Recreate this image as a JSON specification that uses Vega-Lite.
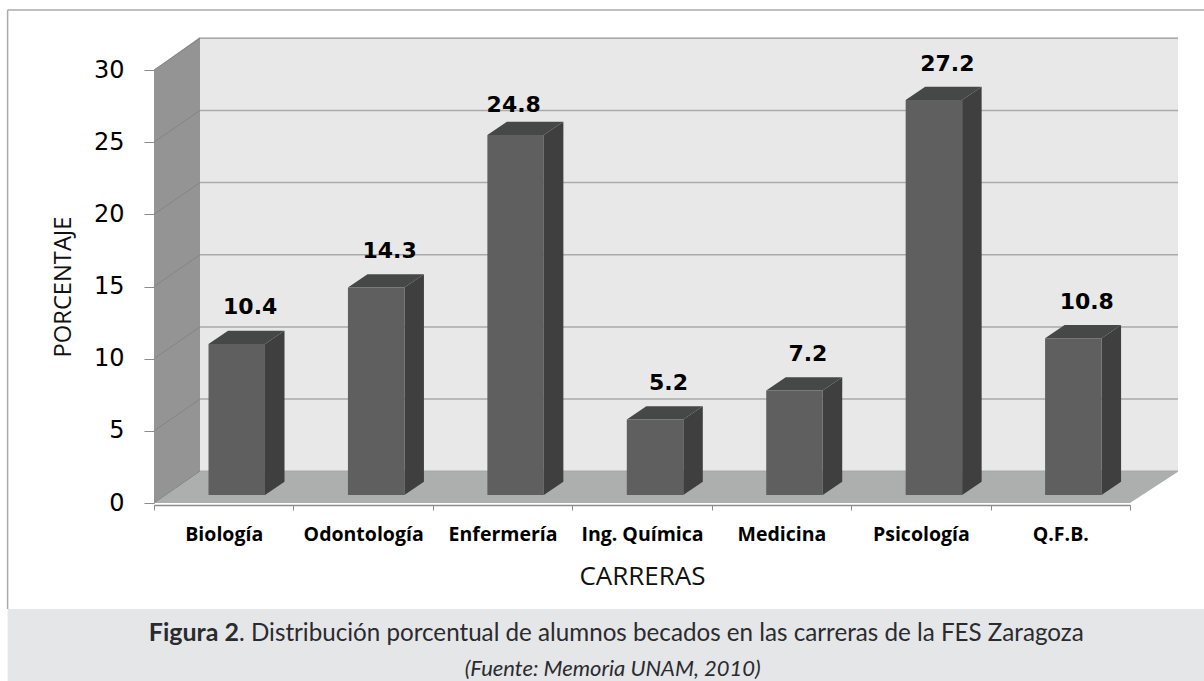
{
"$schema":"https://vega.github.io/schema/vega-lite/v6.json",
"width":976,"height":433,
"autosize":{"type":"none"},
"padding":{"left":154,"top":70,"right":74,"bottom":178},
"background":"#ffffff",
"config":{"view":{"stroke":null},"text":{"font":"DejaVu Sans"}},
"datasets":{
"bars":[
{"category":"Biología","i":0,"value":10.4},
{"category":"Odontología","i":1,"value":14.3},
{"category":"Enfermería","i":2,"value":24.8},
{"category":"Ing. Química","i":3,"value":5.2},
{"category":"Medicina","i":4,"value":7.2},
{"category":"Psicología","i":5,"value":27.2},
{"category":"Q.F.B.","i":6,"value":10.8}],
"grid":[{"v":0},{"v":5},{"v":10},{"v":15},{"v":20},{"v":25},{"v":30}],
"depth":[{"d":0},{"d":1}],
"one":[{"n":1}]
},
"layer":[
{"data":{"name":"one"},"mark":{"type":"rect","color":"#e5e6e8"},
 "encoding":{
 "x":{"datum":-1.05,"scale":{"domain":[0,7],"nice":false,"zero":false}},"x2":{"datum":7.6},
 "y":{"datum":-7.35,"scale":{"domain":[0,30],"nice":false,"zero":false}},"y2":{"datum":-12.4}}},
{"data":{"name":"one"},"mark":{"type":"rule","color":"#aaaaaa","strokeWidth":1.5},
 "encoding":{
 "x":{"datum":-1.05,"scale":{"domain":[0,7],"nice":false,"zero":false}},
 "y":{"datum":-7.35,"scale":{"domain":[0,30],"nice":false,"zero":false}},"y2":{"datum":34.15}}},
{"data":{"name":"one"},"mark":{"type":"rule","color":"#aaaaaa","strokeWidth":1.5},
 "encoding":{
 "x":{"datum":-1.05,"scale":{"domain":[0,7],"nice":false,"zero":false}},"x2":{"datum":7.6},
 "y":{"datum":34.15,"scale":{"domain":[0,30],"nice":false,"zero":false}}}},
{"data":{"name":"one"},"mark":{"type":"rect","color":"#e8e8e8"},
 "encoding":{
 "x":{"datum":0.33,"scale":{"domain":[0,7],"nice":false,"zero":false}},"x2":{"datum":7.344},
 "y":{"datum":2.17,"scale":{"domain":[0,30],"nice":false,"zero":false}},"y2":{"datum":32.29}}},
{"data":{"name":"depth"},
 "transform":[{"calculate":"0.33*datum.d","as":"xx"},{"calculate":"2.17*datum.d","as":"yb"},{"calculate":"30+2.29*datum.d","as":"yt"}],
 "mark":{"type":"area","color":"#949494","orient":"vertical"},
 "encoding":{
 "x":{"field":"xx","type":"quantitative","scale":{"domain":[0,7],"nice":false,"zero":false}},
 "y":{"field":"yb","type":"quantitative","scale":{"domain":[0,30],"nice":false,"zero":false}},"y2":{"field":"yt"}}},
{"data":{"name":"depth"},
 "transform":[{"calculate":"0.33*datum.d","as":"xa"},{"calculate":"7+0.344*datum.d","as":"xb"},{"calculate":"2.17*datum.d","as":"yy"}],
 "mark":{"type":"area","color":"#adaeae","orient":"horizontal"},
 "encoding":{
 "x":{"field":"xa","type":"quantitative","scale":{"domain":[0,7],"nice":false,"zero":false}},"x2":{"field":"xb"},
 "y":{"field":"yy","type":"quantitative","scale":{"domain":[0,30],"nice":false,"zero":false}}}},
{"data":{"name":"grid"},
 "transform":[{"calculate":"datum.v+2.2","as":"vb"}],
 "mark":{"type":"rule","color":"#aaaaaa","strokeWidth":1.5},
 "encoding":{
 "x":{"datum":0.33,"scale":{"domain":[0,7],"nice":false,"zero":false}},"x2":{"datum":7.344},
 "y":{"field":"vb","type":"quantitative","scale":{"domain":[0,30],"nice":false,"zero":false}}}},
{"data":{"name":"grid"},
 "transform":[{"calculate":"datum.v+2.2","as":"vb"}],
 "mark":{"type":"rule","color":"#858585","strokeWidth":1},
 "encoding":{
 "x":{"datum":0,"scale":{"domain":[0,7],"nice":false,"zero":false}},"x2":{"datum":0.33},
 "y":{"field":"v","type":"quantitative","scale":{"domain":[0,30],"nice":false,"zero":false}},"y2":{"field":"vb"}}},
{"data":{"name":"bars"},
 "transform":[{"calculate":"[0,1]","as":"d"},{"flatten":["d"]},
  {"calculate":"datum.i+0.796+0.14*datum.d","as":"xs"},
  {"calculate":"0.55+0.92*datum.d","as":"yb"},
  {"calculate":"datum.value*1.006+0.55+0.92*datum.d","as":"yt"}],
 "mark":{"type":"area","color":"#3f3f3f","orient":"vertical"},
 "encoding":{
 "detail":{"field":"category"},
 "x":{"field":"xs","type":"quantitative","scale":{"domain":[0,7],"nice":false,"zero":false}},
 "y":{"field":"yb","type":"quantitative","scale":{"domain":[0,30],"nice":false,"zero":false}},"y2":{"field":"yt"}}},
{"data":{"name":"bars"},
 "transform":[{"calculate":"[0,1]","as":"d"},{"flatten":["d"]},
  {"calculate":"datum.i+0.391+0.14*datum.d","as":"xa"},
  {"calculate":"datum.i+0.796+0.14*datum.d","as":"xb"},
  {"calculate":"datum.value*1.006+0.55+0.92*datum.d","as":"yy"}],
 "mark":{"type":"area","color":"#464747","orient":"horizontal"},
 "encoding":{
 "detail":{"field":"category"},
 "x":{"field":"xa","type":"quantitative","scale":{"domain":[0,7],"nice":false,"zero":false}},"x2":{"field":"xb"},
 "y":{"field":"yy","type":"quantitative","scale":{"domain":[0,30],"nice":false,"zero":false}}}},
{"data":{"name":"bars"},
 "transform":[
  {"calculate":"datum.i+0.391","as":"x0"},{"calculate":"datum.i+0.796","as":"x1"},
  {"calculate":"0.55","as":"y0"},{"calculate":"datum.value*1.006+0.55","as":"y1"}],
 "mark":{"type":"rect","color":"#5f5f5f"},
 "encoding":{
 "x":{"field":"x0","type":"quantitative","scale":{"domain":[0,7],"nice":false,"zero":false},
  "axis":{"values":[0,0.5,1,1.5,2,2.5,3,3.5,4,4.5,5,5.5,6,6.5,7],"grid":false,"zindex":1,
   "title":"CARRERAS","titleFont":"Open Sans","titleFontSize":26,"titleFontWeight":"normal","titleColor":"#111111","titlePadding":20,
   "offset":2,"domainColor":"#8c8c8c","domainWidth":1.5,"tickColor":"#8c8c8c","tickSize":5,"tickOpacity":{"expr":"datum.value % 1 === 0 ? 1 : 0"},
   "labelExpr":"datum.value % 1 === 0 ? '' : ['Biología','Odontología','Enfermería','Ing. Química','Medicina','Psicología','Q.F.B.'][floor(datum.value)]",
   "labelFont":"Open Sans","labelFontSize":19.5,"labelFontWeight":"bold","labelColor":"#000000","labelPadding":15,"labelAngle":0,"labelOverlap":false,"labelBound":false,"labelFlush":false}},
 "x2":{"field":"x1"},
 "y":{"field":"y1","type":"quantitative","scale":{"domain":[0,30],"nice":false,"zero":false},
  "axis":{"values":[0,5,10,15,20,25,30],"grid":false,"zindex":1,"domain":false,
   "title":"PORCENTAJE","titleFont":"Open Sans","titleFontSize":23.7,"titleFontWeight":"normal","titleColor":"#111111","titlePadding":18,
   "tickColor":"#8c8c8c","tickSize":10,"labelFont":"DejaVu Sans","labelFontSize":24,"labelColor":"#000000","labelPadding":20}},
 "y2":{"field":"y0"}}},
{"data":{"name":"bars"},
 "transform":[
  {"calculate":"datum.i+(datum.category==='Enfermería'?0.58:0.69)","as":"lx"},
  {"calculate":"datum.value*1.006+0.55+(datum.category==='Enfermería'?1.6:2.05)","as":"ly"}],
 "mark":{"type":"text","font":"DejaVu Sans","fontWeight":"bold","fontSize":22,"color":"#000000","baseline":"alphabetic","align":"center"},
 "encoding":{
 "text":{"field":"value","type":"quantitative","format":".1f"},
 "x":{"field":"lx","type":"quantitative","scale":{"domain":[0,7],"nice":false,"zero":false}},
 "y":{"field":"ly","type":"quantitative","scale":{"domain":[0,30],"nice":false,"zero":false}}}},
{"data":{"name":"one"},"mark":{"type":"text","text":"Figura 2","font":"Lato","fontWeight":"bold","fontSize":25,"color":"#2b2b2f","align":"right","baseline":"alphabetic"},
 "encoding":{
 "x":{"datum":0.61,"scale":{"domain":[0,7],"nice":false,"zero":false}},
 "y":{"datum":-9.56,"scale":{"domain":[0,30],"nice":false,"zero":false}}}},
{"data":{"name":"one"},"mark":{"type":"text","text":". Distribución porcentual de alumnos becados en las carreras  de la FES Zaragoza","font":"Lato","fontSize":24.2,"color":"#2b2b2f","align":"left","baseline":"alphabetic"},
 "encoding":{
 "x":{"datum":0.61,"scale":{"domain":[0,7],"nice":false,"zero":false}},
 "y":{"datum":-9.56,"scale":{"domain":[0,30],"nice":false,"zero":false}}}},
{"data":{"name":"one"},"mark":{"type":"text","text":"(Fuente: Memoria UNAM, 2010)","font":"Lato","fontStyle":"italic","fontSize":22,"color":"#2b2b2f","align":"center","baseline":"alphabetic"},
 "encoding":{
 "x":{"datum":3.29,"scale":{"domain":[0,7],"nice":false,"zero":false}},
 "y":{"datum":-12.0,"scale":{"domain":[0,30],"nice":false,"zero":false}}}}
]
}
